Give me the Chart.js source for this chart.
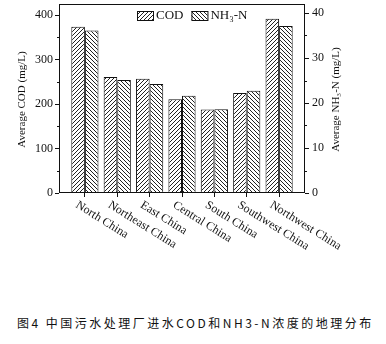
<!DOCTYPE html>
<html>
<head>
<meta charset="utf-8">
<script src="https://cdn.jsdelivr.net/npm/chart.js@4"></script>
<style>
  html, body { margin: 0; padding: 0; background: #fff; }
  #wrap { position: relative; width: 386px; height: 344px; }
  #chart { display: block; }
  #caption {
    position: absolute; left: 17px; top: 314px;
    font: 12px "Noto Sans CJK SC", sans-serif; letter-spacing: 2.5px;
    color: #111; white-space: nowrap;
  }
</style>
</head>
<body>
<div id="wrap">
  <canvas id="chart" width="386" height="290"></canvas>
  <div id="caption">图4 中国污水处理厂进水COD和NH3-N浓度的地理分布</div>
</div>
<script>
// --- Data ---
const regions = ["North China", "Northeast China", "East China", "Central China", "South China", "Southwest China", "Northwest China"];
const codValues = [374, 261, 257, 211, 188, 225, 392];      // mg/L, left axis
const nh3Values = [36.1, 25.1, 24.2, 21.6, 18.6, 22.7, 37.1]; // mg/L, right axis
const seriesLabels = ["COD", "NH₃-N"];
const axisTitles = ["Average COD (mg/L)", "Average NH₃-N (mg/L)"];

const ink = "#111";
const serif = "'Liberation Serif', 'Times New Roman', serif";
const canvas = document.getElementById("chart");
const ctx = canvas.getContext("2d");

// diagonal hatch fill, "/" or "\"
function hatch(dir) {
  const c = document.createElement("canvas");
  c.width = 4; c.height = 4;
  const g = c.getContext("2d");
  g.fillStyle = "#fff";
  g.fillRect(0, 0, 4, 4);
  g.strokeStyle = "#222";
  g.lineWidth = 1;
  g.beginPath();
  if (dir === "/") {
    g.moveTo(-1, 5); g.lineTo(5, -1);
    g.moveTo(-1, 1); g.lineTo(1, -1);
    g.moveTo(3, 5); g.lineTo(5, 3);
  } else {
    g.moveTo(-1, -1); g.lineTo(5, 5);
    g.moveTo(3, -1); g.lineTo(5, 1);
    g.moveTo(-1, 3); g.lineTo(1, 5);
  }
  g.stroke();
  return ctx.createPattern(c, "repeat");
}

// frame, minor ticks, rotated labels, titles and legend
const decor = {
  id: "decor",
  afterDraw(chart) {
    const { ctx: c, chartArea: a, scales } = chart;
    c.save();
    c.strokeStyle = ink;
    c.lineWidth = 1;
    c.strokeRect(Math.round(a.left) + 0.5, Math.round(a.top) + 0.5, Math.round(a.right - a.left) - 1, Math.round(a.bottom - a.top) - 1);

    // minor ticks halfway between major ones
    c.beginPath();
    [["y", a.left, -2], ["y2", a.right, 2]].forEach(([id, x0, len]) => {
      const s = scales[id];
      const vals = s.ticks.map(t => t.value);
      const step = vals[1] - vals[0];
      for (let v = vals[0] + step / 2; v < s.max; v += step) {
        const y = Math.round(s.getPixelForValue(v)) + 0.5;
        c.moveTo(x0, y); c.lineTo(x0 + len, y);
      }
    });
    c.stroke();

    c.fillStyle = ink;
    // category labels, rotated clockwise
    c.font = "12px " + serif;
    c.textAlign = "left";
    c.textBaseline = "top";
    regions.forEach((name, i) => {
      const x = scales.x.getPixelForValue(i);
      c.save();
      c.translate(x - 5, a.bottom + 6);
      c.rotate(32 * Math.PI / 180);
      c.fillText(name, 0, 0);
      c.restore();
    });

    // axis titles, both reading bottom to top
    c.font = "11px " + serif;
    c.textAlign = "center";
    c.textBaseline = "middle";
    const midY = (a.top + a.bottom) / 2;
    [[22, axisTitles[0]], [336, axisTitles[1]]].forEach(([x, text]) => {
      c.save();
      c.translate(x, midY + 1);
      c.rotate(-Math.PI / 2);
      c.fillText(text, 0, 0);
      c.restore();
    });

    // legend inside the plot
    c.font = "13px " + serif;
    c.textAlign = "left";
    let lx = a.left + 78;
    chart.data.datasets.forEach(ds => {
      c.fillStyle = ds.backgroundColor;
      c.fillRect(lx, 11, 16, 9);
      c.strokeRect(lx + 0.5, 11.5, 16, 9);
      c.fillStyle = ink;
      c.fillText(ds.label, lx + 19, 16);
      lx += 19 + c.measureText(ds.label).width + 8;
    });
    c.restore();
  }
};

const tickFont = { family: serif, size: 12 };

new Chart(canvas, {
  type: "bar",
  data: {
    datasets: [
      {
        label: seriesLabels[0],
        data: codValues.map((v, i) => ({ x: i, y: v })),
        yAxisID: "y",
        backgroundColor: hatch("/"),
        borderColor: ink,
        borderWidth: 1,
        categoryPercentage: 0.84,
        barPercentage: 1
      },
      {
        label: seriesLabels[1],
        data: nh3Values.map((v, i) => ({ x: i, y: v })),
        yAxisID: "y2",
        backgroundColor: hatch("\\"),
        borderColor: ink,
        borderWidth: 1,
        categoryPercentage: 0.84,
        barPercentage: 1
      }
    ]
  },
  options: {
    responsive: false,
    animation: false,
    layout: { padding: { top: 4, left: 0, right: 0, bottom: 0 } },
    plugins: { legend: { display: false }, tooltip: { enabled: false } },
    scales: {
      x: {
        type: "linear",
        min: -0.8,
        max: 6.8,
        offset: false,
        ticks: { stepSize: 1, includeBounds: false, display: false },
        grid: { drawOnChartArea: false, tickLength: 4, color: ink, offset: false },
        border: { display: false },
        afterFit(s) { s.height = 97; s.paddingLeft = 0; s.paddingRight = 0; }
      },
      y: {
        position: "left",
        min: 0,
        max: 425,
        ticks: { stepSize: 100, includeBounds: false, color: ink, font: tickFont, padding: 2 },
        grid: { drawOnChartArea: false, tickLength: 4, color: ink },
        border: { display: false },
        afterFit(s) { s.width = 59; s.paddingTop = 0; s.paddingBottom = 0; }
      },
      y2: {
        position: "right",
        min: 0,
        max: 42,
        ticks: { stepSize: 10, includeBounds: false, color: ink, font: tickFont, padding: 3 },
        grid: { drawOnChartArea: false, tickLength: 4, color: ink },
        border: { display: false },
        afterFit(s) { s.width = 81; s.paddingTop = 0; s.paddingBottom = 0; }
      }
    }
  },
  plugins: [decor]
});
</script>
</body>
</html>
